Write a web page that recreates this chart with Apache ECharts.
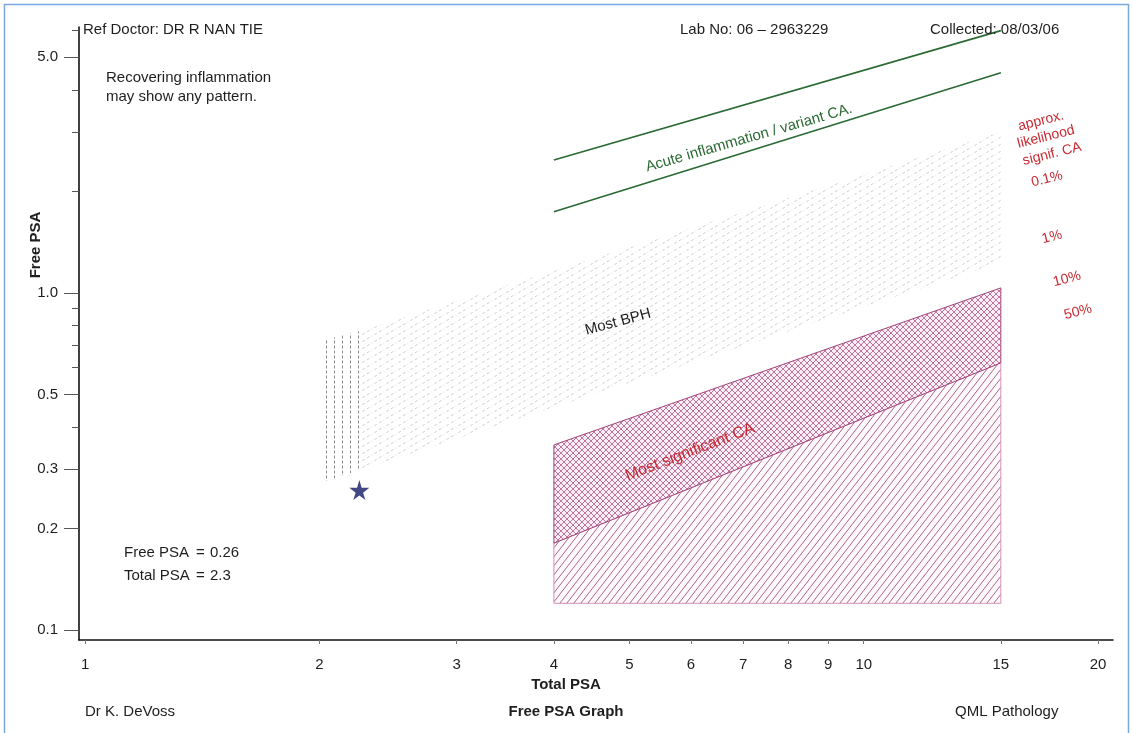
<!DOCTYPE html>
<html>
<head>
<meta charset="utf-8">
<script src="https://cdn.jsdelivr.net/npm/echarts@6/dist/echarts.min.js"></script>
<style>
html,body{margin:0;padding:0;background:#fff;}
#chart{width:1133px;height:733px;}
</style>
</head>
<body>
<div id="chart"></div>
<script>
// ---------- data ----------
const xTickValues = [1, 2, 3, 4, 5, 6, 7, 8, 9, 10, 15, 20];
const yMajorValues = [0.1, 0.2, 0.3, 0.5, 1, 5];
const yMinorValues = [0.4, 0.6, 0.7, 0.8, 0.9, 2, 3, 4, 6];

const acuteUpper = [[4, 2.48], [15, 6.0]];
const acuteLower = [[4, 1.74], [15, 4.5]];

const bphVertical = [[2, 0.72], [2.25, 0.77], [2.25, 0.298], [2, 0.273]];
const bphDiagonal = [[2.25, 0.77], [15, 3.0], [15, 1.23], [2.25, 0.298]];
const crossHatchZone = [[4, 0.354], [15, 1.035], [15, 0.62], [4, 0.181]];
const diagonalZone = [[4, 0.181], [15, 0.62], [15, 0.12], [4, 0.12]];

const patient = [[2.25, 0.26]];

// ---------- patterns ----------
function makePattern(w, h, bg, draw) {
  const c = document.createElement('canvas');
  c.width = w; c.height = h;
  const ctx = c.getContext('2d');
  if (bg) { ctx.fillStyle = bg; ctx.fillRect(0, 0, w, h); }
  draw(ctx, w, h);
  return { image: c, repeat: 'repeat' };
}
function slashLines(ctx, w, h) {
  for (let k = -1; k <= 1; k++) {
    ctx.beginPath();
    ctx.moveTo(k * w - w, 2 * h);
    ctx.lineTo(k * w + 2 * w, -h);
    ctx.stroke();
  }
}
function backLines(ctx, w, h) {
  for (let k = -1; k <= 1; k++) {
    ctx.beginPath();
    ctx.moveTo(k * w - w, -h);
    ctx.lineTo(k * w + 2 * w, 2 * h);
    ctx.stroke();
  }
}
const diagPattern = makePattern(7, 9, '#fefafc', (ctx, w, h) => {
  ctx.strokeStyle = '#a5527f'; ctx.lineWidth = 0.9; slashLines(ctx, w, h);
});
const crossPattern = makePattern(6, 6, '#fbeef5', (ctx, w, h) => {
  ctx.strokeStyle = '#b0558a'; ctx.lineWidth = 0.8;
  slashLines(ctx, w, h); backLines(ctx, w, h);
});
const bphPattern = makePattern(12, 7, null, (ctx, w, h) => {
  ctx.strokeStyle = '#c2c2c2'; ctx.lineWidth = 0.8; ctx.setLineDash([3, 2.5]);
  slashLines(ctx, w, h);
});
const vertPattern = makePattern(8, 5, null, (ctx, w, h) => {
  ctx.strokeStyle = '#8a8a8a'; ctx.lineWidth = 1;
  ctx.beginPath(); ctx.moveTo(6.5, 0.5); ctx.lineTo(6.5, 3.5); ctx.stroke();
});

function polygonSeries(name, points, style, z) {
  return {
    type: 'custom', name: name, coordinateSystem: 'cartesian2d',
    data: points, silent: true, z: z,
    renderItem: function (params, api) {
      if (params.dataIndex !== 0) return null;
      const pts = points.map(p => api.coord(p));
      return { type: 'polygon', shape: { points: pts }, style: style };
    }
  };
}

const FONT = "'Liberation Sans', Arial, Helvetica, sans-serif";
const TXT = '#1e1e1e';
const GREEN = '#2a6a33';
const RED = '#c72a32';

function txt(text, x, y, opts) {
  opts = opts || {};
  return {
    type: 'text', x: x, y: y, rotation: (opts.rot || 0) * Math.PI / 180, z: 100,
    style: {
      text: text, x: 0, y: 0,
      fill: opts.color || TXT,
      font: (opts.bold ? 'bold ' : '') + (opts.size || 15) + 'px ' + FONT,
      align: opts.align || 'left', verticalAlign: 'middle'
    }
  };
}

const chart = echarts.init(document.getElementById('chart'));
const option = {
  animation: false,
  backgroundColor: '#ffffff',
  grid: { left: 79, right: 20, top: 27, bottom: 93, containLabel: false },
  xAxis: {
    type: 'log', logBase: 10, min: 0.982, max: 20.9,
    axisLine: { show: true, lineStyle: { color: '#111', width: 1.6 } },
    axisTick: { show: true, customValues: xTickValues, length: 4, lineStyle: { color: '#777' } },
    axisLabel: { customValues: xTickValues, margin: 17, color: TXT, fontSize: 15, fontFamily: FONT },
    splitLine: { show: false }, minorTick: { show: false }
  },
  yAxis: [
    {
      type: 'log', logBase: 10, min: 0.0934, max: 6.15, position: 'left',
      axisLine: { show: true, lineStyle: { color: '#111', width: 1.6 } },
      axisTick: { show: true, customValues: yMajorValues, length: 15, lineStyle: { color: '#555' } },
      axisLabel: { customValues: yMajorValues, margin: 21, color: TXT, fontSize: 15, fontFamily: FONT,
        formatter: v => Number(v).toFixed(1) },
      splitLine: { show: false }
    },
    {
      type: 'log', logBase: 10, min: 0.0934, max: 6.15, position: 'left', offset: 0,
      axisLine: { show: false },
      axisTick: { show: true, customValues: yMinorValues, length: 7, lineStyle: { color: '#555' } },
      axisLabel: { show: false },
      splitLine: { show: false }
    }
  ],
  series: [
    polygonSeries('BPH vertical', bphVertical, { fill: vertPattern, stroke: null }, 1),
    polygonSeries('Most BPH', bphDiagonal, { fill: bphPattern, stroke: null }, 1),
    polygonSeries('Diagonal zone', diagonalZone, { fill: diagPattern, stroke: '#d392b6', lineWidth: 1 }, 2),
    polygonSeries('Most significant CA', crossHatchZone, { fill: crossPattern, stroke: '#a2447a', lineWidth: 1 }, 3),
    {
      type: 'line', name: 'Acute upper', data: acuteUpper, showSymbol: false, silent: true, z: 4,
      lineStyle: { color: GREEN, width: 1.6 }
    },
    {
      type: 'line', name: 'Acute lower', data: acuteLower, showSymbol: false, silent: true, z: 4,
      lineStyle: { color: GREEN, width: 1.6 }
    },
    {
      type: 'scatter', name: 'Patient', data: patient, z: 10,
      symbol: 'path://M50,0 L61,35 L98,35 L68,57 L79,91 L50,70 L21,91 L32,57 L2,35 L39,35 Z',
      symbolSize: 20, itemStyle: { color: '#141a66' }
    }
  ],
  graphic: [
    { type: 'rect', shape: { x: 4.5, y: 4.5, width: 1124, height: 760 }, style: { fill: 'none', stroke: '#7ea6de', lineWidth: 1.5 }, z: 200 },
    txt('Ref Doctor: DR R NAN TIE', 83, 30),
    txt('Lab No: 06 \u2013 2963229', 680, 30),
    txt('Collected: 08/03/06', 930, 30),
    txt('Recovering inflammation', 106, 78),
    txt('may show any pattern.', 106, 97),
    txt('Free PSA', 124, 553), txt('=', 196, 553), txt('0.26', 210, 553),
    txt('Total PSA', 124, 576), txt('=', 196, 576), txt('2.3', 210, 576),
    txt('Acute inflammation / variant CA.', 749, 138, { color: GREEN, rot: 16, align: 'center' }),
    txt('Most BPH', 618, 322, { rot: 15, align: 'center' }),
    txt('Most significant CA', 690, 452, { color: RED, rot: 21, align: 'center', size: 16 }),
    txt('approx.', 1041, 121, { color: RED, rot: 14, align: 'center', size: 14 }),
    txt('likelihood', 1046, 137, { color: RED, rot: 14, align: 'center', size: 14 }),
    txt('signif. CA', 1052, 154, { color: RED, rot: 14, align: 'center', size: 14 }),
    txt('0.1%', 1047, 179, { color: RED, rot: 14, align: 'center', size: 14 }),
    txt('1%', 1052, 237, { color: RED, rot: 14, align: 'center', size: 14 }),
    txt('10%', 1067, 279, { color: RED, rot: 14, align: 'center', size: 14 }),
    txt('50%', 1078, 312, { color: RED, rot: 14, align: 'center', size: 14 }),
    txt('Free PSA', 36, 245, { bold: true, rot: 90, align: 'center' }),
    txt('Total PSA', 566, 685, { bold: true, align: 'center' }),
    txt('Dr K. DeVoss', 85, 712),
    txt('Free PSA Graph', 566, 712, { bold: true, align: 'center' }),
    txt('QML Pathology', 955, 712)
  ]
};
chart.setOption(option);
</script>
</body>
</html>
